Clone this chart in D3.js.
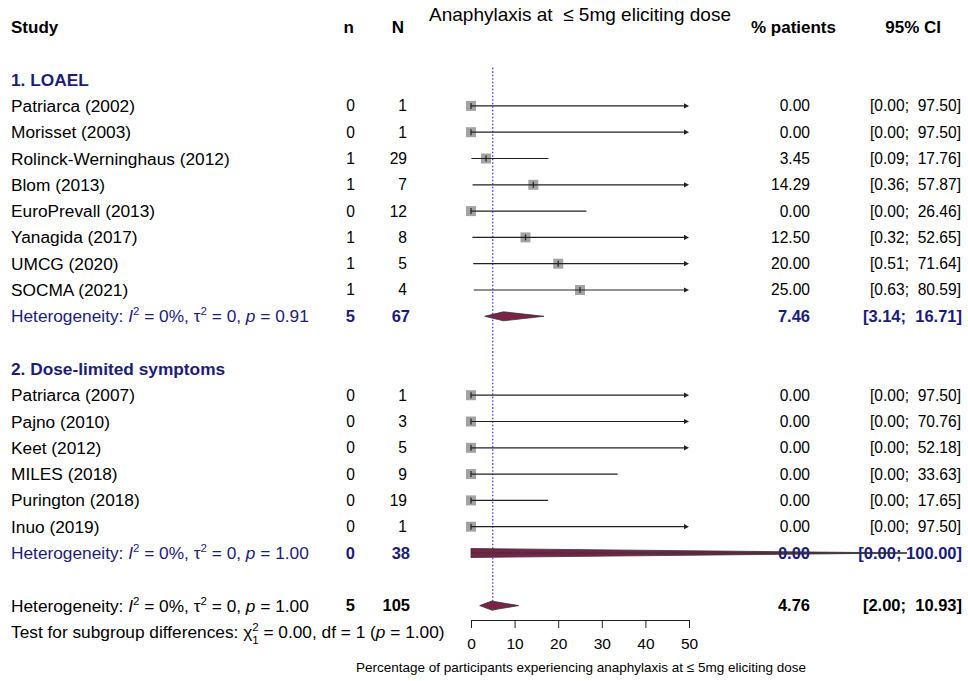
<!DOCTYPE html>
<html>
<head>
<meta charset="utf-8">
<script src="https://cdn.jsdelivr.net/npm/d3@7"></script>
<style>
  body { margin: 0; background: #fff; }
  svg text { font-family: "Liberation Sans", Arial, sans-serif; white-space: pre; }
</style>
</head>
<body>
<svg id="chart" width="968" height="681"></svg>
<script>
// ---- data ----
const groupNames = ["1. LOAEL", "2. Dose-limited symptoms"];
const studies = ["Patriarca (2002)", "Morisset (2003)", "Rolinck-Werninghaus (2012)", "Blom (2013)",
  "EuroPrevall (2013)", "Yanagida (2017)", "UMCG (2020)", "SOCMA (2021)",
  "Patriarca (2007)", "Pajno (2010)", "Keet (2012)", "MILES (2018)", "Purington (2018)", "Inuo (2019)"];
const studyGroup = [0, 0, 0, 0, 0, 0, 0, 0, 1, 1, 1, 1, 1, 1];
const events   = [0, 0, 1, 1, 0, 1, 1, 1, 0, 0, 0, 0, 0, 0];
const totals   = [1, 1, 29, 7, 12, 8, 5, 4, 1, 3, 5, 9, 19, 1];
const estimate = [0, 0, 3.45, 14.29, 0, 12.50, 20.00, 25.00, 0, 0, 0, 0, 0, 0];
const lower    = [0, 0, 0.09, 0.36, 0, 0.32, 0.51, 0.63, 0, 0, 0, 0, 0, 0];
const upper    = [97.50, 97.50, 17.76, 57.87, 26.46, 52.65, 71.64, 80.59, 97.50, 70.76, 52.18, 33.63, 17.65, 97.50];

// pooled rows: subgroup 1, subgroup 2, overall
const pooledEvents = [5, 0, 5];
const pooledTotals = [67, 38, 105];
const pooledEst    = [7.46, 0.00, 4.76];
const pooledLower  = [3.14, 0.00, 2.00];
const pooledUpper  = [16.71, 100.00, 10.93];
const pooledP      = ["0.91", "1.00", "1.00"];

const axisTicks = [0, 10, 20, 30, 40, 50];
const refValue = 5;

const navy = "#1c1c7a";
const labelFs = 17.3, headFs = 17, numFs = 15.6, boldNumFs = 16.5, supFs = 11.5;

const svg = d3.select("#chart");

const x = d3.scaleLinear().domain([0, 50]).range([471, 689]);
const rowY = d3.scaleLinear().domain([0, 1]).range([27, 53.3]);

const col = { study: 11, n: 355, N: 407, pct: 810, ci: 961 };

function fmtCI(l, u) {
  let us = u.toFixed(2);
  if (us.length < 6) us = " " + us;
  return "[" + l.toFixed(2) + "; " + us + "]";
}

function txt(xp, yp, s, opts = {}) {
  return svg.append("text")
    .attr("x", xp).attr("y", yp)
    .attr("dy", "0.35em")
    .attr("xml:space", "preserve")
    .attr("text-anchor", opts.anchor || "start")
    .attr("font-size", opts.size || numFs)
    .attr("font-weight", opts.bold ? "bold" : null)
    .attr("fill", opts.color || "#000")
    .text(s);
}

// layout rows
const rows = [];
let r = 2;
groupNames.forEach((g, gi) => {
  rows.push({ type: "group", label: g, row: r++ });
  studies.forEach((s, i) => {
    if (studyGroup[i] === gi) rows.push({ type: "study", i: i, row: r++ });
  });
  rows.push({ type: "pooled", i: gi, row: r++ });
  r++;
});
rows.push({ type: "pooled", i: 2, row: r++ });
const testRow = r;

// title and headers
txt(580, 14, "Anaphylaxis at  \u2264 5mg eliciting dose", { anchor: "middle", size: 19 });
txt(col.study, rowY(0), "Study", { bold: true, size: headFs });
txt(col.n - 1, rowY(0), "n", { bold: true, anchor: "end", size: headFs });
txt(col.N - 3, rowY(0), "N", { bold: true, anchor: "end", size: headFs });
txt(836, rowY(0), "% patients", { bold: true, anchor: "end", size: headFs });
txt(941, rowY(0), "95% CI", { bold: true, anchor: "end", size: headFs });

// reference line
svg.append("line")
  .attr("x1", x(refValue)).attr("x2", x(refValue))
  .attr("y1", rowY(1.55)).attr("y2", rowY(22.2))
  .attr("stroke", "#0000ff").attr("stroke-width", 1)
  .attr("stroke-dasharray", "1.5,2");

function heteroText(yp, p, color) {
  const t = svg.append("text")
    .attr("x", col.study).attr("y", yp).attr("dy", "0.35em")
    .attr("xml:space", "preserve")
    .attr("font-size", labelFs).attr("fill", color);
  t.append("tspan").text("Heterogeneity: ");
  t.append("tspan").attr("font-style", "italic").text("I");
  t.append("tspan").attr("font-size", supFs).attr("dy", -7).text("2");
  t.append("tspan").attr("dy", 7).text(" = 0%, \u03c4");
  t.append("tspan").attr("font-size", supFs).attr("dy", -7).text("2");
  t.append("tspan").attr("dy", 7).text(" = 0, ");
  t.append("tspan").attr("font-style", "italic").text("p");
  t.append("tspan").text(" = " + p);
}

const g = svg.append("g");

rows.forEach(d => {
  const yp = rowY(d.row);
  if (d.type === "group") {
    txt(col.study, yp, d.label, { bold: true, color: navy, size: labelFs });
  } else if (d.type === "study") {
    const i = d.i;
    txt(col.study, yp, studies[i], { size: labelFs });
    txt(col.n, yp, String(events[i]), { anchor: "end" });
    txt(col.N, yp, String(totals[i]), { anchor: "end" });
    txt(col.pct, yp, estimate[i].toFixed(2), { anchor: "end" });
    txt(col.ci, yp, fmtCI(lower[i], upper[i]), { anchor: "end" });

    g.append("rect")
      .attr("x", x(estimate[i]) - 5).attr("y", yp - 5)
      .attr("width", 10).attr("height", 10)
      .attr("fill", "#a3a3a3");
    const hi = Math.min(upper[i], 50);
    g.append("line")
      .attr("x1", x(lower[i])).attr("x2", upper[i] > 50 ? x(hi) - 4 : x(hi))
      .attr("y1", yp).attr("y2", yp)
      .attr("stroke", "#222").attr("stroke-width", 1.2);
    g.append("line")
      .attr("x1", x(estimate[i])).attr("x2", x(estimate[i]))
      .attr("y1", yp - 3).attr("y2", yp + 3)
      .attr("stroke", "#222").attr("stroke-width", 1.2);
    if (upper[i] > 50) {
      const ax = x(50);
      g.append("path")
        .attr("d", `M${ax},${yp} L${ax - 5},${yp - 2.6} L${ax - 5},${yp + 2.6} Z`)
        .attr("fill", "#222");
    }
  } else {
    const i = d.i;
    const color = i < 2 ? navy : "#000";
    heteroText(yp, pooledP[i], color);
    txt(col.n, yp, String(pooledEvents[i]), { anchor: "end", bold: true, color: color, size: boldNumFs });
    txt(col.N + 3, yp, String(pooledTotals[i]), { anchor: "end", bold: true, color: color, size: boldNumFs });

    const h = 4.5;
    const xl = x(pooledLower[i]), xe = x(pooledEst[i]), xu = x(pooledUpper[i]);
    const dPath = pooledLower[i] === pooledEst[i]
      ? `M${xe},${yp - h} L${xu},${yp} L${xe},${yp + h} Z`
      : `M${xl},${yp} L${xe},${yp - h} L${xu},${yp} L${xe},${yp + h} Z`;
    g.append("path")
      .attr("d", dPath)
      .attr("fill", "#7a2248").attr("stroke", "#333").attr("stroke-width", 0.8);
    txt(col.pct, yp, pooledEst[i].toFixed(2), { anchor: "end", bold: true, color: color, size: boldNumFs });
    txt(col.ci + 1, yp, fmtCI(pooledLower[i], pooledUpper[i]), { anchor: "end", bold: true, color: color, size: boldNumFs });
  }
});

// the wide subgroup-2 diamond crosses the text columns
svg.append("line")
  .attr("x1", x(0)).attr("x2", x(100))
  .attr("y1", rowY(20)).attr("y2", rowY(20))
  .attr("stroke", "#333").attr("stroke-width", 0.9);

// test for subgroup differences
{
  const t = svg.append("text")
    .attr("x", col.study).attr("y", rowY(testRow)).attr("dy", "0.35em")
    .attr("xml:space", "preserve")
    .attr("font-size", labelFs);
  t.append("tspan").text("Test for subgroup differences: \u03c7");
  t.append("tspan").attr("font-size", supFs).attr("dy", -7).text("2");
  t.append("tspan").attr("font-size", supFs).attr("dx", -6.4).attr("dy", 13).text("1");
  t.append("tspan").attr("dy", -6).text(" = 0.00, df = 1 (");
  t.append("tspan").attr("font-style", "italic").text("p");
  t.append("tspan").text(" = 1.00)");
}

// axis
const axisY = 620;
const axis = svg.append("g")
  .attr("transform", `translate(0,${axisY})`)
  .call(d3.axisBottom(x).tickValues(axisTicks).tickSize(8).tickPadding(10));
axis.selectAll("path, line").attr("stroke", "#222");
axis.selectAll("text")
  .attr("font-size", 15.5)
  .attr("font-family", "Liberation Sans, Arial, sans-serif")
  .attr("fill", "#000");

txt(581, 667, "Percentage of participants experiencing anaphylaxis at \u2264 5mg eliciting dose",
  { anchor: "middle", size: 13.5 });
</script>
</body>
</html>
